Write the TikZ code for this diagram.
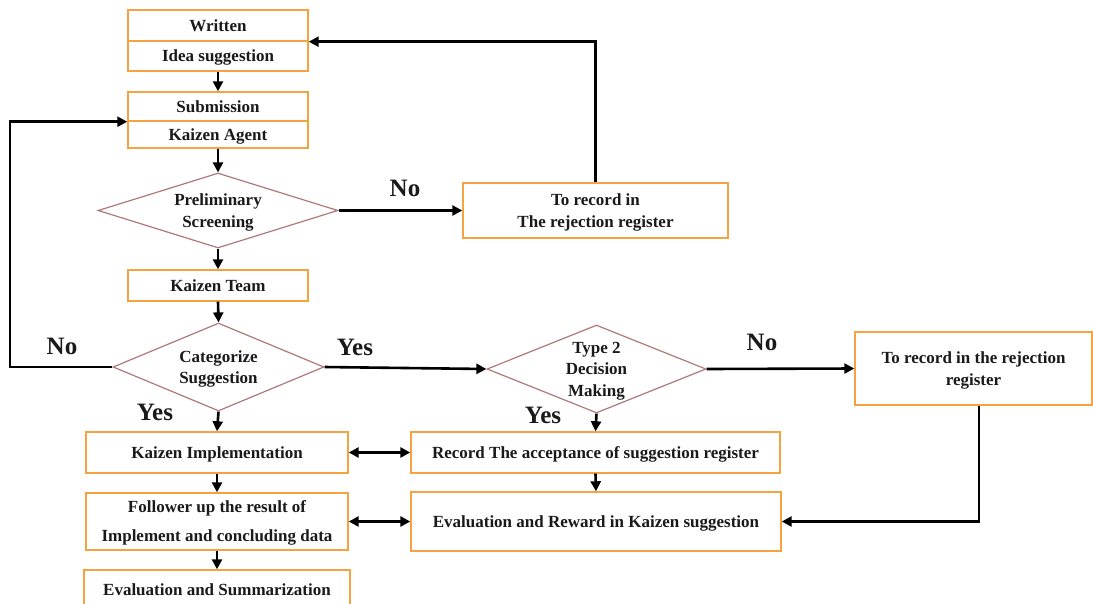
\documentclass[tikz,border=0pt]{standalone}
\usepackage{fontspec}
\setmainfont{Liberation Serif}
\usetikzlibrary{shapes.geometric,arrows.meta}
\definecolor{boxor}{HTML}{F5A240}
\definecolor{diabr}{HTML}{B07878}
\definecolor{txt}{HTML}{1A1A1A}
\tikzset{
  box/.style={draw=boxor, line width=1.4pt, fill=white, rectangle, inner sep=0pt, align=center,
    text depth=0pt, font=\bfseries\fontsize{17}{22}\selectfont, text=txt},
  dia/.style={draw=diabr, line width=1.2pt, diamond, inner sep=0pt, fill=white},
  diatxt/.style={inner sep=0pt, align=center, text depth=0pt, font=\bfseries\fontsize{17}{21.5}\selectfont, text=txt},
  conn/.style={line width=2.6pt, draw=black, -{Triangle[length=10pt,width=10pt]}},
  dconn/.style={line width=2.6pt, draw=black, {Triangle[length=10pt,width=10pt]}-{Triangle[length=10pt,width=10pt]}},
  yn/.style={inner sep=1pt, font=\bfseries\fontsize{25}{28}\selectfont, text=txt}
}
\begin{document}
\begin{tikzpicture}[x=1pt,y=-1pt]
\useasboundingbox (0,0) rectangle (1093,603);
% left column
\node[box, minimum width=180pt, minimum height=31pt] (W1) at (218,25.5) {Written};
\node[box, minimum width=180pt, minimum height=30pt] (W2) at (218,56) {Idea suggestion};
\node[box, minimum width=180pt, minimum height=29pt] (S1) at (218,106.5) {Submission};
\node[box, minimum width=180pt, minimum height=27pt] (S2) at (218,134.5) {Kaizen Agent};
\node[dia, minimum width=240pt, minimum height=75pt] (D1) at (218,210.5) {};
\node[diatxt] (D1t) at (D1.center) {Preliminary\\Screening};
\node[box, minimum width=180pt, minimum height=31pt] (Team) at (218,285.5) {Kaizen Team};
\node[dia, minimum width=211pt, minimum height=88pt] (D2) at (218.5,367) {};
\node[diatxt] (D2t) at (D2.center) {Categorize\\Suggestion};
\node[box, minimum width=262pt, minimum height=41pt] (Impl) at (217,452.5) {Kaizen Implementation};
\node[box, minimum width=262pt, minimum height=57pt, font=\bfseries\fontsize{17}{29}\selectfont] (Fol) at (217,521.5) {Follower up the result of\\Implement and concluding data};
\node[box, minimum width=266pt, minimum height=40pt] (Sum) at (217,590) {Evaluation and Summarization};
% middle / right
\node[box, minimum width=265pt, minimum height=55pt] (R1) at (595.5,210.5) {To record in\\The rejection register};
\node[dia, minimum width=219pt, minimum height=88pt] (D3) at (596.5,369) {};
\node[diatxt] (D3t) at (D3.center) {Type 2\\Decision\\Making};
\node[box, minimum width=237pt, minimum height=73pt] (R2) at (973.5,368.5) {To record in the rejection\\register};
\node[box, minimum width=369pt, minimum height=41pt] (Rec) at (595.5,452.5) {Record The acceptance of suggestion register};
\node[box, minimum width=370pt, minimum height=59pt] (Ev) at (596,521.5) {Evaluation and Reward in Kaizen suggestion};
% helper coordinates
\coordinate (LX) at (10,0);
\coordinate (RX) at (979,0);
% connectors
\draw[conn] (W2.south) -- (S1.north);
\draw[conn] (S2.south) -- (D1.north);
\draw[conn] (D1.south) -- (Team.north);
\draw[conn] (Team.south) -- (D2.north);
\draw[conn] (D2.south) -- (Impl.north);
\draw[conn] (Impl.south) -- (Fol.north);
\draw[conn] (Fol.south) -- (Sum.north);
\draw[conn] (D2.west) -- (D2.west -| LX) -- (S1.south west -| LX) -- (S1.south west);
\draw[conn] (D1.east) -- (R1.west);
\draw[conn] (R1.north) -- (R1.north |- W1.south east) -- (W1.south east);
\draw[conn] (D2.east) -- (D3.west);
\draw[conn] (D3.east) -- (R2.west);
\draw[conn] (D3.south) -- (Rec.north);
\draw[dconn] (Impl.east) -- (Rec.west);
\draw[conn] (Rec.south) -- (Ev.north);
\draw[dconn] (Fol.east) -- (Ev.west);
\draw[conn] (R2.south -| RX) -- (Ev.east -| RX) -- (Ev.east);
% labels
\node[yn] (n1) at (405,188) {No};
\node[yn] (n2) at (62,346) {No};
\node[yn] (y1) at (355,347) {Yes};
\node[yn] (y2) at (155,412) {Yes};
\node[yn] (n3) at (762,342) {No};
\node[yn] (y3) at (543,415) {Yes};
\end{tikzpicture}
\end{document}
